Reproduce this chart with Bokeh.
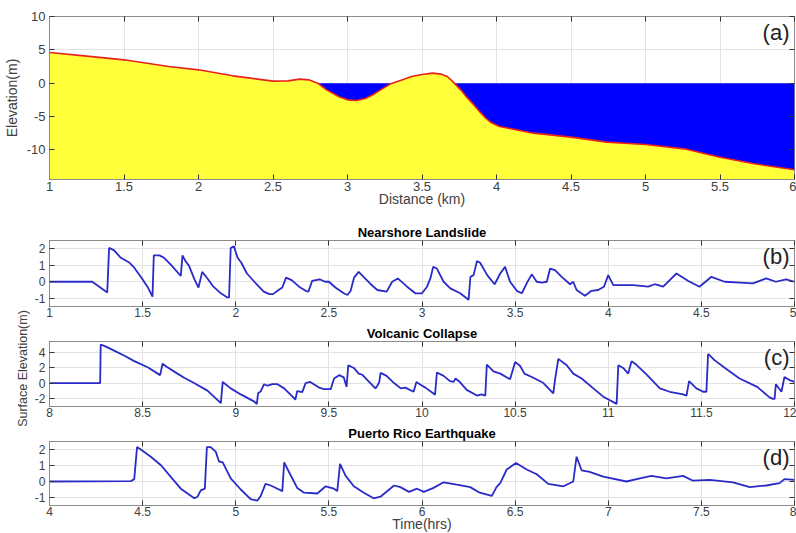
import math
from bokeh.plotting import figure
from bokeh.layouts import column, row
from bokeh.models import Range1d, FixedTicker, LinearAxis, CustomJSTickFormatter
from bokeh.core.properties import value
from bokeh.embed import file_html
from bokeh.resources import INLINE

# ---------------- data ----------------
# (a) bathymetry profile
dist_km = [1.0, 1.25, 1.5, 1.8, 2.0, 2.23, 2.5, 2.6, 2.68, 2.74, 2.8, 2.86, 2.94, 3.0, 3.06,
           3.12, 3.17, 3.23, 3.29, 3.355, 3.43, 3.5, 3.57, 3.63, 3.67, 3.71, 3.76, 3.8, 3.85,
           3.89, 3.93, 3.96, 4.02, 4.25, 4.5, 4.74, 5.0, 5.26, 5.5, 5.73, 6.0]
elev_m = [4.6, 4.05, 3.5, 2.5, 2.0, 1.1, 0.3, 0.35, 0.6, 0.5, 0.0, -1.0, -2.0, -2.5, -2.6,
          -2.3, -1.75, -0.9, -0.1, 0.4, 1.0, 1.3, 1.5, 1.35, 1.0, 0.15, -1.0, -2.1, -3.3,
          -4.35, -5.3, -5.85, -6.5, -7.5, -8.1, -8.85, -9.2, -9.85, -11.1, -12.1, -13.0]
sea_level = 0.0

# (b) Nearshore Landslide
t_b = [1.0, 1.23, 1.31, 1.32, 1.347, 1.383, 1.43, 1.455, 1.49, 1.526, 1.553, 1.56, 1.59, 1.615,
       1.65, 1.705, 1.714, 1.73, 1.75, 1.776, 1.8, 1.82, 1.848, 1.88, 1.92, 1.955, 1.964, 1.973,
       1.99, 2.01, 2.03, 2.06, 2.1, 2.15, 2.18, 2.2, 2.23, 2.25, 2.27, 2.3, 2.34, 2.375, 2.39,
       2.41, 2.45, 2.48, 2.5, 2.535, 2.58, 2.6, 2.617, 2.635, 2.66, 2.69, 2.725, 2.76, 2.81,
       2.84, 2.87, 2.92, 2.964, 3.0, 3.027, 3.045, 3.06, 3.08, 3.116, 3.152, 3.205, 3.24, 3.25,
       3.26, 3.277, 3.295, 3.312, 3.35, 3.39, 3.42, 3.446, 3.473, 3.509, 3.536, 3.562, 3.589,
       3.616, 3.643, 3.67, 3.688, 3.714, 3.75, 3.795, 3.812, 3.83, 3.875, 3.91, 3.946, 3.977,
       4.0, 4.027, 4.06, 4.134, 4.214, 4.25, 4.295, 4.366, 4.43, 4.49, 4.554, 4.625, 4.71,
       4.777, 4.848, 4.9, 4.955, 5.0]
eta_b = [0.0, 0.0, -0.65, 2.05, 1.9, 1.45, 1.15, 0.85, 0.3, -0.3, -0.9, 1.6, 1.6, 1.45,
         1.05, 0.35, 1.6, 1.25, 0.95, 0.2, -0.35, 0.6, 0.2, -0.3, -0.7, -0.95, -0.95, 2.05,
         2.15, 1.45, 1.15, 0.5, 0.0, -0.6, -0.75, -0.75, -0.5, -0.35, 0.25, 0.1, -0.3, -0.55, -0.6,
         0.05, 0.15, 0.0, 0.0, -0.35, -0.7, -0.8, -0.55, 0.25, 0.6, 0.25, -0.15, -0.5, -0.6,
         0.0, 0.2, -0.3, -0.7, -0.7, -0.3, 0.2, 0.9, 0.8, 0.0, -0.4, -0.7, -1.0, -1.1,
         0.3, 0.4, 1.25, 1.15, 0.4, -0.15, 0.5, 0.9, 0.0, -0.55, -0.7, -0.1, 0.45,
         0.0, -0.05, 0.0, 0.8, 0.7, 0.3, -0.15, 0.0, -0.5, -0.85, -0.55, -0.5, -0.3,
         0.4, -0.2, -0.2, -0.2, -0.3, -0.15, -0.3, 0.5, 0.05, -0.3, 0.3, 0.0, -0.05,
         -0.1, 0.2, 0.0, 0.15, 0.0]

# (c) Volcanic Collapse
t_c = [8.0, 8.272, 8.275, 8.3, 8.347, 8.4, 8.455, 8.527, 8.594, 8.607, 8.633, 8.687, 8.723,
       8.776, 8.848, 8.92, 8.93, 8.973, 9.027, 9.1, 9.113, 9.12, 9.134, 9.152, 9.17, 9.197,
       9.224, 9.26, 9.313, 9.32, 9.33, 9.357, 9.375, 9.4, 9.447, 9.474, 9.51, 9.528, 9.555,
       9.58, 9.595, 9.604, 9.634, 9.66, 9.68, 9.707, 9.75, 9.76, 9.77, 9.778, 9.81, 9.85,
       9.886, 9.91, 9.955, 9.97, 9.99, 10.018, 10.06, 10.07, 10.08, 10.116, 10.15, 10.17,
       10.18, 10.205, 10.24, 10.295, 10.32, 10.34, 10.348, 10.384, 10.42, 10.473, 10.5,
       10.527, 10.55, 10.598, 10.652, 10.705, 10.714, 10.732, 10.777, 10.812, 10.857, 10.92,
       10.973, 11.045, 11.054, 11.08, 11.107, 11.125, 11.15, 11.205, 11.277, 11.33, 11.402,
       11.42, 11.434, 11.473, 11.51, 11.527, 11.536, 11.572, 11.634, 11.705, 11.8, 11.866,
       11.884, 11.893, 11.9, 11.93, 11.946, 11.973, 12.0]
eta_c = [0.0, 0.0, 5.1, 4.85, 4.3, 3.65, 2.9, 2.1, 1.05, 2.55, 2.1, 1.25, 0.7,
         0.0, -1.0, -2.65, 0.15, -0.7, -1.5, -2.45, -2.8, -1.35, -1.1, -0.15, -0.35, -0.15,
         -0.15, -0.7, -2.0, -2.2, -1.05, -1.2, 0.0, 0.15, -0.6, -0.8, -0.8, 0.6, 1.05,
         0.75, -0.5, 2.35, 2.0, 1.25, 1.1, 0.4, -0.7, -0.35, 0.1, 1.35, 0.95, 0.0,
         -0.7, -0.6, -1.15, 0.15, -0.2, -0.6, -1.35, -1.55, 1.4, 0.95, 0.25, 0.15,
         0.6, 0.1, -0.9, -1.65, -1.5, -1.65, 2.45, 1.55, 1.25, 0.5, 2.8,
         2.25, 1.25, 0.7, 0.0, -1.35, 0.4, 3.2, 2.35, 1.25, 0.6, -0.7,
         -1.8, -2.75, 2.35, 2.0, 1.25, 2.9, 2.45, 1.15, -0.7, -1.15, -1.5,
         -1.65, 0.25, -0.7, -1.15, -1.15, 3.85, 3.0, 1.85, 0.6, -0.5, -1.9,
         -2.1, -2.1, -0.15, -1.15, 0.8, 0.4, 0.15]

# (d) Puerto Rico Earthquake
t_d = [4.0, 4.436, 4.455, 4.47, 4.49, 4.544, 4.6, 4.65, 4.705, 4.76, 4.777, 4.795, 4.812,
       4.834, 4.845, 4.866, 4.893, 4.91, 4.93, 4.973, 5.027, 5.08, 5.116, 5.134, 5.16, 5.188,
       5.224, 5.25, 5.26, 5.29, 5.33, 5.367, 5.438, 5.483, 5.527, 5.545, 5.56, 5.59, 5.634,
       5.688, 5.74, 5.777, 5.85, 5.884, 5.93, 5.973, 6.01, 6.062, 6.116, 6.187, 6.259, 6.31,
       6.375, 6.4, 6.42, 6.455, 6.505, 6.562, 6.616, 6.678, 6.76, 6.812, 6.83, 6.857, 6.9,
       6.973, 7.098, 7.17, 7.232, 7.312, 7.402, 7.455, 7.545, 7.67, 7.76, 7.848, 7.92, 7.946,
       8.0]
eta_d = [0.0, 0.02, 0.15, 2.15, 2.0, 1.55, 1.0, 0.3, -0.45, -0.9, -1.05, -0.95, -0.55,
         -0.45, 2.15, 2.15, 1.85, 1.25, 1.2, 0.2, -0.5, -1.1, -1.2, -0.9, -0.15, -0.25,
         -0.45, -0.6, 1.2, 0.5, -0.4, -0.7, -0.75, -0.3, -0.45, -0.6, 1.1, 0.35, -0.3,
         -0.7, -1.05, -0.95, -0.25, -0.35, -0.65, -0.45, -0.65, -0.4, -0.05, -0.2, -0.35, -0.7,
         -0.9, -0.35, -0.1, 0.75, 1.15, 0.75, 0.45, -0.15, -0.3, 0.0, 1.55, 0.7, 0.6,
         0.3, 0.0, 0.2, 0.35, 0.2, 0.35, 0.05, 0.1, -0.05, -0.35, -0.25, -0.1, 0.15,
         0.1]

# axis ranges and ticks
xr_a, yr_a = (1, 6), (-14.45, 10)
xt_a, yt_a = [1, 1.5, 2, 2.5, 3, 3.5, 4, 4.5, 5, 5.5, 6], [-10, -5, 0, 5, 10]
xr_b, yr_b = (1, 5), (-1.5, 2.5)
xt_b, yt_b = [1, 1.5, 2, 2.5, 3, 3.5, 4, 4.5, 5], [-1, 0, 1, 2]
xr_c, yr_c = (8, 12), (-3.1, 5.5)
xt_c, yt_c = [8, 8.5, 9, 9.5, 10, 10.5, 11, 11.5, 12], [-2, 0, 2, 4]
xr_d, yr_d = (4, 8), (-1.5, 2.5)
xt_d, yt_d = [4, 4.5, 5, 5.5, 6, 6.5, 7, 7.5, 8], [-1, 0, 1, 2]

titles = ["Nearshore Landslide", "Volcanic Collapse", "Puerto Rico Earthquake"]
panel_tags = ["(a)", "(b)", "(c)", "(d)"]

# ---------------- styling ----------------
FONT = "Liberation Sans"
TXT = "#404040"
FRAME = "#8c8c8c"
LINE = "#2a2ac8"
FW = 745
LAB_W = 30                     # width of the shared y-label strip
H_A = 209                      # height of panel (a) figure
H_B, H_C, H_D = 112, 100, 112  # heights of panels (b)-(d)


def fmt(t):
    return "%g" % t


def style(p, xt, yt, tick_size, x_standoff, y_standoff):
    p.background_fill_color = "white"
    p.border_fill_color = "white"
    p.outline_line_color = FRAME
    p.outline_line_width = 1
    xa, ya = p.below[0], p.left[0]
    xa.ticker = FixedTicker(ticks=xt)
    ya.ticker = FixedTicker(ticks=yt)
    xa.major_label_overrides = {t: fmt(t) for t in xt}
    ya.major_label_overrides = {t: fmt(t) for t in yt}
    for ax in (xa, ya):
        ax.axis_line_color = FRAME
        ax.major_tick_in = 5
        ax.major_tick_out = 0
        ax.major_tick_line_color = "#333333"
        ax.minor_tick_line_color = None
        ax.major_label_text_font = FONT
        ax.major_label_text_font_size = tick_size
        ax.major_label_text_color = TXT
        ax.axis_label_text_font = FONT
        ax.axis_label_text_font_size = "14px"
        ax.axis_label_text_color = TXT
        ax.axis_label_text_font_style = "normal"
    xa.major_label_standoff = x_standoff
    ya.major_label_standoff = y_standoff
    p.xgrid.ticker = FixedTicker(ticks=xt)
    p.ygrid.ticker = FixedTicker(ticks=yt)
    p.grid.grid_line_color = "#e3e3e3"
    p.grid.grid_line_width = 1
    blank = CustomJSTickFormatter(code="return ''")
    for loc, ticks in (("above", xt), ("right", yt)):
        ax = LinearAxis(ticker=FixedTicker(ticks=ticks), formatter=blank,
                        axis_line_color=None, major_tick_in=5, major_tick_out=0,
                        major_tick_line_color="#333333", minor_tick_line_color=None,
                        major_label_standoff=0, major_label_text_font_size="1px")
        p.add_layout(ax, loc)
    return xa, ya


def tag(p, xr, yr, label):
    p.text(x=[xr[1]], y=[yr[1]], text=[label], text_align="right", text_baseline="top",
           x_offset=-5, y_offset=3, text_font=value(FONT), text_font_size=value("22px"),
           text_color="#222222")


# ---------------- panel (a) ----------------
pa = figure(frame_width=FW, frame_height=163, min_border_left=49, min_border_right=2,
            min_border_top=16, min_border_bottom=H_A - 16 - 163, x_range=Range1d(*xr_a),
            y_range=Range1d(*yr_a), output_backend="svg", toolbar_location=None)
xa_a, ya_a = style(pa, xt_a, yt_a, "13px", 2, 4)
xa_a.axis_label = "Distance (km)"
ya_a.axis_label = "Elevation(m)"
xa_a.axis_label_standoff = -3
ya_a.axis_label_standoff = 4
pa.varea(x=dist_km, y1=[yr_a[0]] * len(dist_km), y2=[sea_level] * len(dist_km),
         fill_color="#0000ff")
pa.varea(x=dist_km, y1=[yr_a[0]] * len(dist_km), y2=elev_m, fill_color="#ffff3a")
pa.line(dist_km, elev_m, line_color="#e8231e", line_width=1.6)
tag(pa, xr_a, yr_a, panel_tags[0])


# ---------------- panels (b)-(d) ----------------
def series_fig(t, eta, xr, yr, xt, yt, title, label, top, fh, total):
    p = figure(frame_width=FW, frame_height=fh, min_border_left=49 - LAB_W, min_border_right=2,
               min_border_top=top, min_border_bottom=total - top - fh,
               x_range=Range1d(*xr), y_range=Range1d(*yr), output_backend="svg",
               toolbar_location=None)
    xa, ya = style(p, xt, yt, "12px", 1, 4)
    p.title.text = title
    p.title.align = "center"
    p.title.text_font = FONT
    p.title.text_font_size = "13px"
    p.title.text_font_style = "bold"
    p.title.text_color = "#000000"
    p.title.standoff = 2
    p.line(t, eta, line_color=LINE, line_width=1.8)
    tag(p, xr, yr, label)
    return p, xa


pb, _ = series_fig(t_b, eta_b, xr_b, yr_b, xt_b, yt_b, titles[0], panel_tags[1], 31, 66, H_B)
pc, _ = series_fig(t_c, eta_c, xr_c, yr_c, xt_c, yt_c, titles[1], panel_tags[2], 20, 65, H_C)
pd, xa_d = series_fig(t_d, eta_d, xr_d, yr_d, xt_d, yt_d, titles[2], panel_tags[3], 20, 64, H_D)
xa_d.axis_label = "Time(hrs)"
xa_d.axis_label_standoff = -3

# shared y label
lab_h = H_B + H_C + H_D
pl = figure(width=LAB_W, height=lab_h, min_border=0, x_range=Range1d(0, LAB_W),
            y_range=Range1d(0, lab_h), output_backend="svg", toolbar_location=None)
pl.axis.visible = False
pl.grid.visible = False
pl.outline_line_color = None
pl.text(x=[22.5], y=[lab_h - 159], text=["Surface Elevation(m)"], angle=math.pi / 2,
        text_align="center", text_baseline="middle", text_font=value(FONT),
        text_font_size=value("12.5px"), text_color=TXT)

layout = column(pa, row(pl, column(pb, pc, pd)))

open("out.html", "w").write(file_html(layout, INLINE))
